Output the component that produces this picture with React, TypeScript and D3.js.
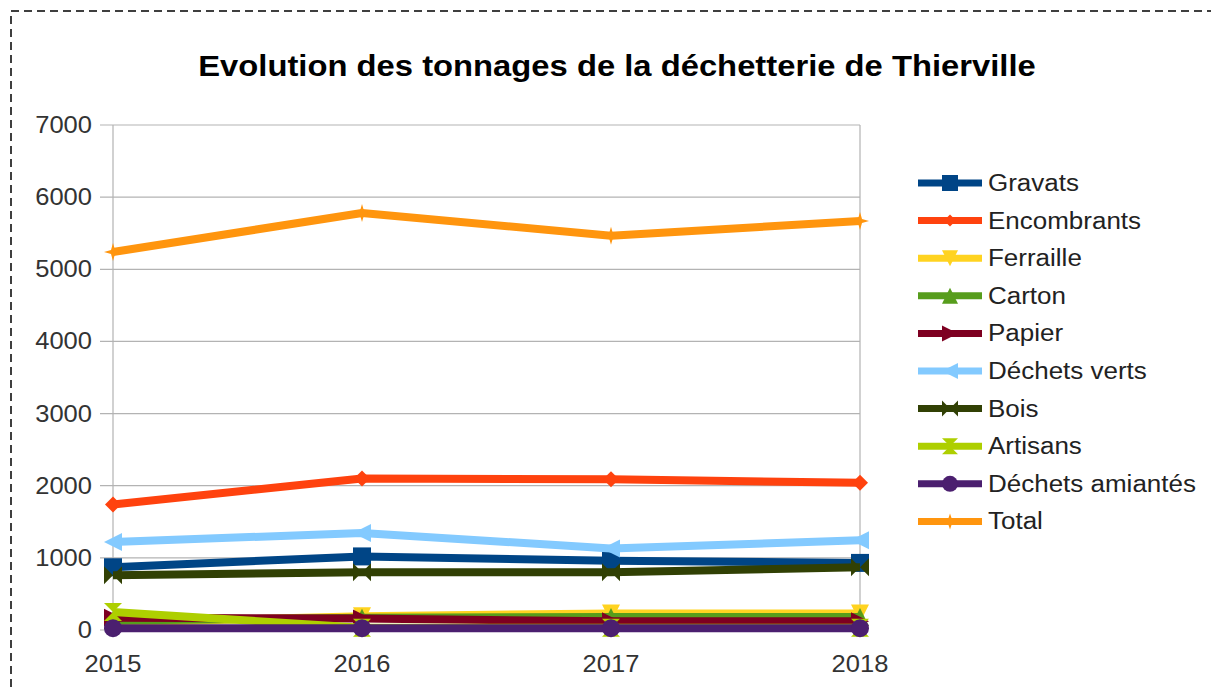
import React from "react";
import * as d3 from "d3";

// valeurs (tonnes)
const years = ["2015", "2016", "2017", "2018"];
const gravats = [870, 1020, 960, 930];
const encombrants = [1740, 2100, 2090, 2040];
const ferraille = [100, 190, 230, 230];
const carton = [130, 170, 180, 180];
const papier = [170, 160, 120, 120];
const dechetsVerts = [1220, 1345, 1130, 1245];
const bois = [760, 800, 800, 870];
const artisans = [250, 30, 30, 30];
const amiantes = [25, 25, 25, 25];
const total = [5240, 5780, 5465, 5670];
const yTicks = [0, 1000, 2000, 3000, 4000, 5000, 6000, 7000];

const series = [
  { name: "Gravats", values: gravats, color: "#004586", marker: "square" },
  { name: "Encombrants", values: encombrants, color: "#ff420e", marker: "diamond" },
  { name: "Ferraille", values: ferraille, color: "#ffd320", marker: "down" },
  { name: "Carton", values: carton, color: "#579d1c", marker: "up" },
  { name: "Papier", values: papier, color: "#7e0021", marker: "right" },
  { name: "Déchets verts", values: dechetsVerts, color: "#83caff", marker: "left" },
  { name: "Bois", values: bois, color: "#314004", marker: "bowtie" },
  { name: "Artisans", values: artisans, color: "#aecf00", marker: "hourglass" },
  { name: "Déchets amiantés", values: amiantes, color: "#4b1f6f", marker: "circle" },
  { name: "Total", values: total, color: "#ff950e", marker: "star" },
];

function markerPath(kind, s) {
  switch (kind) {
    case "square": return `M${-s},${-s}H${s}V${s}H${-s}Z`;
    case "diamond": return `M0,${-s}L${s},0L0,${s}L${-s},0Z`;
    case "down": return `M${-s},${-s}L${s},${-s}L0,${s}Z`;
    case "up": return `M${-s},${s}L${s},${s}L0,${-s}Z`;
    case "right": return `M${-s},${-s}L${s},0L${-s},${s}Z`;
    case "left": return `M${s},${-s}L${-s},0L${s},${s}Z`;
    case "bowtie": return `M${-s},${-s}L${s},${s}L${s},${-s}L${-s},${s}Z`;
    case "hourglass": return `M${-s},${-s}L${s},${-s}L${-s},${s}L${s},${s}Z`;
    case "circle": return d3.symbol(d3.symbolCircle, Math.PI * s * s)();
    default: return `M0,${-s}L2,-2L${s},0L2,2L0,${s}L-2,2L${-s},0L-2,-2Z`;
  }
}

const font = "'Liberation Sans', Arial, sans-serif";

// the picture is a bit stretched sideways, so the text is too
function Label({ x, y, anchor = "start", size = 23, sx = 1.11, weight = "normal", fill = "#333", children }) {
  return (
    <g transform={`translate(${x},${y}) scale(${sx},1)`}>
      <text textAnchor={anchor} fontFamily={font} fontSize={size} fontWeight={weight} fill={fill}>{children}</text>
    </g>
  );
}

export default function App() {
  const x = d3.scalePoint().domain(years).range([113, 860]);
  const y = d3.scaleLinear().domain([0, 7000]).range([630, 125]);
  const line = d3.line().x((d, i) => x(years[i])).y(d => y(d));

  return (
    <svg width={1211} height={687} style={{ position: "absolute", left: 0, top: 0, background: "#fff" }}>
      <rect x={11} y={11} width={1230} height={720} fill="none" stroke="#000" strokeWidth={1.5} strokeDasharray="8,5" />
      <Label x={617} y={76} anchor="middle" size={29} sx={1.13} weight="bold" fill="#000">
        Evolution des tonnages de la déchetterie de Thierville
      </Label>

      {yTicks.map(t => (
        <g key={t}>
          <line x1={100} x2={860} y1={y(t)} y2={y(t)} stroke="#b3b3b3" strokeWidth={1.2} />
          <Label x={92} y={y(t) + 8} anchor="end">{t}</Label>
        </g>
      ))}
      <line x1={113} x2={113} y1={125} y2={636} stroke="#b3b3b3" strokeWidth={1.2} />
      <line x1={860} x2={860} y1={125} y2={636} stroke="#b3b3b3" strokeWidth={1.2} />
      {years.map(yr => (
        <Label key={yr} x={x(yr)} y={672} anchor="middle">{yr}</Label>
      ))}

      {series.map(s => (
        <g key={s.name}>
          <path d={line(s.values)} fill="none" stroke={s.color} strokeWidth={8} strokeLinejoin="round" />
          {s.values.map((v, i) => (
            <path key={i} d={markerPath(s.marker, s.marker === "diamond" ? 8 : 9)} transform={`translate(${x(years[i])},${y(v)})`} fill={s.color} />
          ))}
        </g>
      ))}

      {series.map((s, i) => {
        const cy = 183 + i * 37.6;
        return (
          <g key={s.name}>
            <line x1={918} x2={982} y1={cy} y2={cy} stroke={s.color} strokeWidth={7} />
            <path d={markerPath(s.marker, s.marker === "diamond" ? 6 : 8)} transform={`translate(950,${cy})`} fill={s.color} />
            <Label x={988} y={cy + 8} sx={1.13} fill="#222">{s.name}</Label>
          </g>
        );
      })}
    </svg>
  );
}
